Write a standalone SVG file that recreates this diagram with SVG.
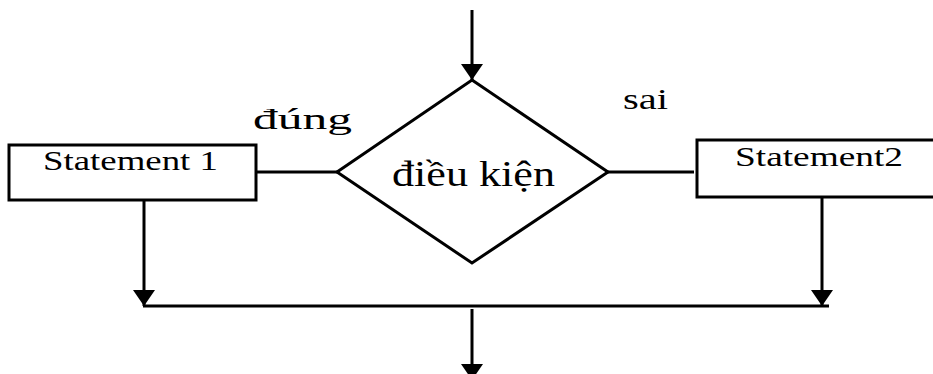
<svg xmlns="http://www.w3.org/2000/svg" width="933" height="374" viewBox="0 0 933 374">
  <style>
    .shape { fill: #ffffff; stroke: #000000; stroke-width: 3; }
    .wire { fill: none; stroke: #000000; stroke-width: 3; }
    .txt { font-family: "Liberation Serif", "Times New Roman", serif; fill: #000000; }
  </style>
  <defs>
    <marker id="arrowDown" markerUnits="userSpaceOnUse" markerWidth="22" markerHeight="17" refX="11" refY="16" viewBox="0 0 22 17">
      <path d="M0,0 L22,0 L11,16 Z" fill="#000000"/>
    </marker>
  </defs>

  <rect width="933" height="374" fill="#ffffff"/>

  <!-- connectors -->
  <g id="connectors">
    <line class="wire" x1="472" y1="10" x2="472" y2="80" marker-end="url(#arrowDown)"/>
    <line class="wire" x1="256" y1="172" x2="337" y2="172"/>
    <line class="wire" x1="608" y1="172" x2="694" y2="172"/>
    <line class="wire" x1="144" y1="200" x2="144" y2="306" marker-end="url(#arrowDown)"/>
    <line class="wire" x1="822" y1="197" x2="822" y2="306" marker-end="url(#arrowDown)"/>
    <line class="wire" x1="143" y1="306" x2="829" y2="306"/>
    <line class="wire" x1="472" y1="309" x2="472" y2="380" marker-end="url(#arrowDown)"/>
  </g>

  <!-- decision -->
  <g id="condition">
    <polygon class="shape" points="472,80 608,172 472,263 337,172"/>
    <text class="txt" x="392" y="186" font-size="36" textLength="163" lengthAdjust="spacingAndGlyphs">điều kiện</text>
  </g>

  <!-- true branch -->
  <g id="statement1">
    <rect class="shape" x="9" y="145" width="247" height="55"/>
    <text class="txt" x="43" y="170" font-size="27" textLength="175" lengthAdjust="spacingAndGlyphs">Statement 1</text>
  </g>

  <!-- false branch -->
  <g id="statement2">
    <rect class="shape" x="697" y="140" width="245" height="57"/>
    <text class="txt" x="735" y="166" font-size="27" textLength="168" lengthAdjust="spacingAndGlyphs">Statement2</text>
  </g>

  <!-- branch labels -->
  <g id="label-true">
    <text class="txt" x="253" y="129" font-size="30" textLength="99" lengthAdjust="spacingAndGlyphs">đúng</text>
  </g>
  <g id="label-false">
    <text class="txt" x="623" y="109" font-size="30" textLength="45" lengthAdjust="spacingAndGlyphs">sai</text>
  </g>
</svg>
